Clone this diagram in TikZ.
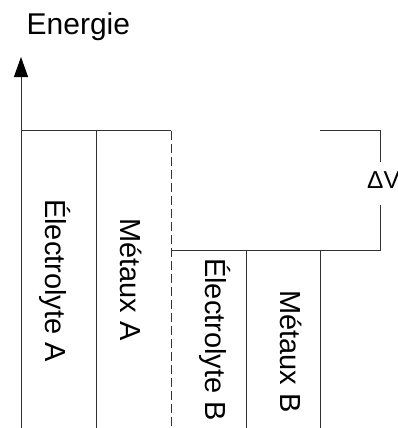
\documentclass[tikz,border=0pt]{standalone}
\usepackage{fontspec}
\setmainfont{Liberation Sans}
\usetikzlibrary{arrows.meta}
\begin{document}
\begin{tikzpicture}[x=1pt,y=-1pt,
  line/.style={draw=black!80, line width=1pt},
  dashline/.style={line, dash pattern=on 9pt off 4pt},
  lbl/.style={inner sep=0pt, anchor=base west, font=\fontsize{29}{35}\selectfont},
  vlbl/.style={lbl, rotate=-90}]
\useasboundingbox (0,0) rectangle (398,428);
% level corners
\coordinate (ax0) at (21,428);
\coordinate (axtop) at (21,57);
\coordinate (a1) at (21,130.5);
\coordinate (a2) at (96,130.5);
\coordinate (a3) at (171,130.5);
\coordinate (a2b) at (96,428);
\coordinate (a3b) at (171,428);
\coordinate (b1) at (171,250.5);
\coordinate (b2) at (246,250.5);
\coordinate (b3) at (320,250.5);
\coordinate (b4) at (380,250.5);
\coordinate (b2b) at (246,428);
\coordinate (b3b) at (320,428);
\coordinate (d1) at (320,130.5);
\coordinate (d2) at (380,130.5);
\coordinate (dg1) at (380,162);
\coordinate (dg2) at (380,205);
% axis
\draw[line, -{Triangle[length=20pt,width=14pt,color=black,fill=black]}] (ax0) -- (axtop);
% level A
\draw[line] (a1) -- (a3);
\draw[line] (a2) -- (a2b);
\draw[dashline] (a3) -- (a3b);
% level B
\draw[line] (b1) -- (b4);
\draw[line] (b2) -- (b2b);
\draw[line] (b3) -- (b3b);
% Delta V bracket
\draw[line] (d1) -- (d2) -- (dg1);
\draw[line] (dg2) -- (b4);
% labels
\node[lbl, font=\fontsize{30}{36}\selectfont] (energie) at (26.5,35) {Energie};
\node[lbl, font=\fontsize{24.5}{30}\selectfont] (dv) at (367,188) {ΔV};
\node[vlbl] (ea) at (45,199) {Électrolyte A};
\node[vlbl] (ma) at (120,218) {Métaux A};
\node[vlbl] (eb) at (205,258) {Électrolyte B};
\node[vlbl] (mb) at (280,290) {Métaux B};
\end{tikzpicture}
\end{document}
